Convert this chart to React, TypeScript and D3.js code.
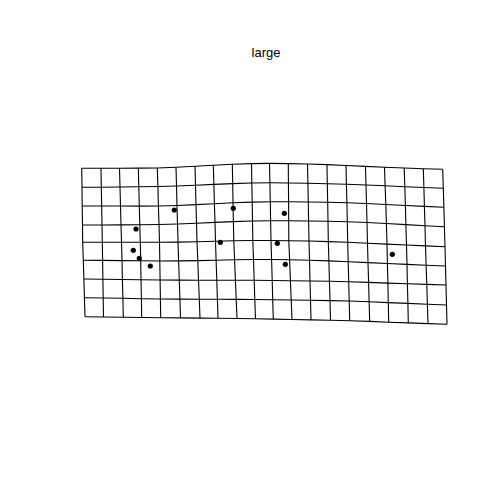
import * as d3 from "d3";
import * as React from "react";

// horizontal grid lines: y of each node, left to right (20 columns)
const rowY: number[][] = [
  [168.3, 168.3, 168.2, 168.1, 168, 167.3, 166.3, 165.3, 164.3, 163.6, 163.4, 163.6, 164, 164.6, 165.5, 166.4, 167.2, 168, 168.7, 169.3],
  [187.3, 187.2, 187, 186.8, 186.5, 186, 185.2, 184.4, 183.6, 183, 182.8, 183, 183.3, 183.7, 184.3, 185, 185.8, 186.7, 187.5, 188.3],
  [206, 206, 206, 206.1, 206, 205.5, 204.6, 203.7, 202.8, 202.1, 201.8, 201.8, 202, 202.3, 202.7, 203.5, 204.5, 205.5, 206.4, 207.3],
  [225, 225, 224.9, 224.7, 224.5, 224, 223.2, 222.4, 221.6, 221, 220.8, 220.8, 221, 221.3, 221.7, 222.5, 223.5, 224.6, 225.7, 226.7],
  [242.3, 242.3, 242.3, 242.3, 242.3, 242.1, 241.7, 241.2, 240.8, 240.5, 240.5, 240.7, 241, 241.6, 242.3, 243.2, 244.1, 245, 245.9, 246.7],
  [260.3, 260.4, 260.6, 260.8, 261, 260.9, 260.6, 260.2, 259.8, 259.5, 259.5, 259.8, 260.2, 260.9, 261.7, 262.6, 263.5, 264.4, 265.2, 266],
  [279, 279.2, 279.5, 279.7, 280, 280.1, 280.2, 280.2, 280.3, 280.3, 280.5, 280.8, 281, 281.3, 281.7, 282.4, 283.1, 283.8, 284.4, 285],
  [297.7, 298, 298.3, 298.7, 299, 299.1, 299.2, 299.3, 299.4, 299.5, 299.8, 300, 300.3, 300.6, 301, 301.8, 302.6, 303.4, 304.2, 305],
  [316.7, 317, 317.2, 317.5, 317.7, 317.9, 318.1, 318.3, 318.5, 318.7, 319.1, 319.5, 319.9, 320.3, 320.7, 321.4, 322.2, 322.9, 323.6, 324.3],
];

// vertical grid lines: x of each node, top to bottom (9 rows)
const colX: number[][] = [
  [81.7, 82, 82.2, 82.5, 82.7, 83.3, 83.9, 84.4, 85],
  [101, 101.3, 101.7, 102, 102.3, 102.6, 102.9, 103.2, 103.5],
  [119.5, 120, 120.5, 121, 121.5, 122, 122.4, 122.9, 123.3],
  [138.3, 138.8, 139.3, 139.8, 140.3, 140.7, 141, 141.4, 141.7],
  [157.3, 157.9, 158.4, 159, 159.5, 159.8, 160.1, 160.4, 160.7],
  [176, 176.5, 177, 177.5, 178, 178.6, 179.3, 179.9, 180.5],
  [195, 195.5, 196, 196.5, 197, 197.8, 198.5, 199.3, 200],
  [213.3, 213.9, 214.4, 215, 215.5, 216.1, 216.8, 217.4, 218],
  [232.3, 232.7, 233, 233.4, 233.8, 234.6, 235.4, 236.2, 237],
  [251.5, 251.8, 252.2, 252.5, 252.8, 253.5, 254.2, 254.8, 255.5],
  [269.5, 269.9, 270.3, 270.6, 271, 271.6, 272.2, 272.7, 273.3],
  [288.3, 288.4, 288.6, 288.7, 288.8, 289.6, 290.4, 291.2, 292],
  [307.5, 307.9, 308.3, 308.6, 309, 309.5, 310, 310.5, 311],
  [327, 327.3, 327.7, 328, 328.3, 328.9, 329.4, 330, 330.5],
  [346, 346.4, 346.9, 347.3, 347.7, 348.2, 348.7, 349.2, 349.7],
  [365.5, 366, 366.5, 367, 367.5, 368, 368.6, 369.1, 369.7],
  [384.5, 385.1, 385.8, 386.4, 387, 387.4, 387.9, 388.3, 388.7],
  [404.2, 404.8, 405.4, 405.9, 406.5, 407, 407.4, 407.9, 408.3],
  [423.3, 423.9, 424.4, 425, 425.5, 426.1, 426.8, 427.4, 428],
  [442.7, 443.3, 443.9, 444.4, 445, 445.5, 446, 446.5, 447],
];

// landmarks
const landmarkX = [174.3, 233.3, 136, 220.3, 133.3, 139.3, 150.3, 284.3, 277.3, 285.3, 392.3];
const landmarkY = [210, 208.3, 229, 242.3, 250.3, 258.3, 266, 213.3, 243.3, 264.3, 254.3];

const title = "large";

export default function App() {
  const width = 504;
  const height = 504;

  const xScale = d3.scaleLinear().domain([0, 504]).range([0, width]);
  const yScale = d3.scaleLinear().domain([0, 504]).range([0, height]);

  const line = d3
    .line<[number, number]>()
    .x((d) => xScale(d[0]))
    .y((d) => yScale(d[1]));

  // horizontal lines
  const hLines = rowY.map((ys, r) =>
    ys.map((y, c) => [colX[c][r], y] as [number, number])
  );
  // vertical lines
  const vLines = colX.map((xs, c) =>
    xs.map((x, r) => [x, rowY[r][c]] as [number, number])
  );

  return (
    <svg
      width={width}
      height={height}
      style={{ position: "absolute", left: 0, top: 0, background: "#ffffff" }}
    >
      <text
        x={266}
        y={57}
        textAnchor="middle"
        fontFamily="Liberation Sans, Arial, sans-serif"
        fontSize={13}
        fill="#000000"
      >
        {title}
      </text>
      <g fill="none" stroke="#000000" strokeWidth={1.1}>
        {hLines.map((pts, i) => (
          <path key={"h" + i} d={line(pts) ?? ""} />
        ))}
        {vLines.map((pts, i) => (
          <path key={"v" + i} d={line(pts) ?? ""} />
        ))}
      </g>
      <g fill="#000000">
        {landmarkX.map((x, i) => (
          <circle key={i} cx={xScale(x)} cy={yScale(landmarkY[i])} r={2.6} />
        ))}
      </g>
    </svg>
  );
}
